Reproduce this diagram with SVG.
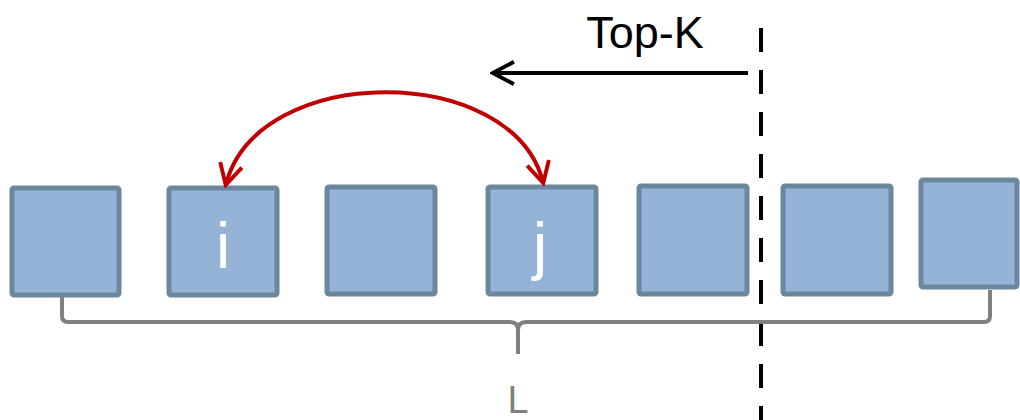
<svg xmlns="http://www.w3.org/2000/svg" width="1020" height="420" viewBox="0 0 1020 420">
  <defs>
    <style>
      .box { fill: #95b3d7; stroke: #6b879e; stroke-width: 5; }
      .lbl { font-family: "Liberation Sans", Arial, sans-serif; fill: #ffffff; text-anchor: middle; }
      .txt { font-family: "Liberation Sans", Arial, sans-serif; text-anchor: middle; }
    </style>
    <marker id="chevBlack" viewBox="0 0 10 10" refX="8.6" refY="5" markerWidth="7" markerHeight="7" orient="auto-start-reverse" markerUnits="strokeWidth">
      <path d="M1.5,1 L9,5 L1.5,9" fill="none" stroke="#000000" stroke-width="1.4" stroke-linejoin="miter"/>
    </marker>
    <marker id="chevRed" viewBox="0 0 10 10" refX="8.6" refY="5" markerWidth="7" markerHeight="7" orient="auto-start-reverse" markerUnits="strokeWidth">
      <path d="M1.5,1 L9,5 L1.5,9" fill="none" stroke="#c00000" stroke-width="1.4" stroke-linejoin="miter"/>
    </marker>
  </defs>

  <rect width="1020" height="420" fill="#ffffff"/>

  <!-- sequence of items -->
  <g id="item1"><rect class="box" x="12" y="188" width="107" height="107" rx="2"/></g>
  <g id="item-i"><rect class="box" x="169" y="188" width="108" height="107" rx="2"/>
    <text class="lbl" x="223" y="268" font-size="64">i</text></g>
  <g id="item3"><rect class="box" x="327" y="187" width="108" height="107" rx="2"/></g>
  <g id="item-j"><rect class="box" x="488" y="187" width="108" height="107" rx="2"/>
    <text class="lbl" x="540" y="268" font-size="64">j</text></g>
  <g id="item5"><rect class="box" x="639" y="186" width="108" height="108" rx="2"/></g>
  <g id="item6"><rect class="box" x="783" y="186" width="108" height="108" rx="2"/></g>
  <g id="item7"><rect class="box" x="921" y="180" width="96" height="107" rx="2"/></g>

  <!-- Top-K cut-off and label -->
  <g id="topk">
    <text class="txt" x="645" y="48" font-size="45" fill="#000000">Top-K</text>
    <line x1="761" y1="28" x2="761" y2="420" stroke="#000000" stroke-width="4" stroke-dasharray="24 18"/>
  </g>

  <!-- length brace -->
  <g id="length">
    <path d="M62,296 L62,316 Q62,322 68,322 L510,322 Q518,322 518,330 L518,354 M518,330 Q518,322 526,322 L984,322 Q990,322 990,316 L990,290"
          fill="none" stroke="#808080" stroke-width="4" stroke-linejoin="round"/>
    <text class="txt" x="518" y="413" font-size="38" fill="#7f7f7f">L</text>
  </g>

  <!-- connectors -->
  <g id="connectors">
    <line x1="748" y1="73" x2="494" y2="73" stroke="#000000" stroke-width="4" marker-end="url(#chevBlack)"/>
    <path d="M226,184 C258,62 512,62 543,182" fill="none" stroke="#c00000" stroke-width="4"
          marker-start="url(#chevRed)" marker-end="url(#chevRed)"/>
  </g>
</svg>
